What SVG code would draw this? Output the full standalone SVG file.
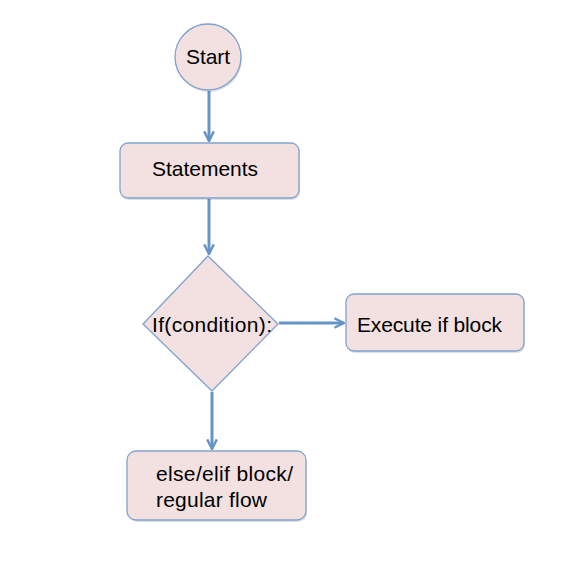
<svg xmlns="http://www.w3.org/2000/svg" width="588" height="587" viewBox="0 0 588 587">
<style>
.node{fill:#F2E1E0;stroke:#7FA3CE;stroke-width:1.3}
.lbl{font-family:"Liberation Sans",Arial,sans-serif;font-size:21px;fill:#000}
.edge{stroke:#6694C6;stroke-width:3;fill:none}
.shadow{fill:#000;opacity:0.12}
</style>
<defs>
<marker id="arr" viewBox="0 0 10 10" refX="9" refY="5" markerWidth="4" markerHeight="4" orient="auto" markerUnits="strokeWidth">
<path d="M1,1 L9,5 L1,9" fill="none" stroke="#6694C6" stroke-width="2"/>
</marker>
</defs>
<rect width="588" height="587" fill="#fff"/>
<g id="connectors">
<line class="edge" x1="209" y1="91" x2="209" y2="141" marker-end="url(#arr)"/>
<line class="edge" x1="209" y1="199" x2="209" y2="254" marker-end="url(#arr)"/>
<line class="edge" x1="279" y1="323" x2="344" y2="323" marker-end="url(#arr)"/>
<line class="edge" x1="212" y1="392" x2="212" y2="449" marker-end="url(#arr)"/>
</g>
<g id="start">
<circle class="shadow" cx="209" cy="59" r="33"/>
<circle class="node" cx="208" cy="57" r="33"/>
<text class="lbl" x="186" y="64" textLength="44">Start</text>
</g>
<g id="statements">
<rect class="shadow" x="121" y="145" width="179" height="55" rx="8"/>
<rect class="node" x="120" y="143" width="179" height="55" rx="8"/>
<text class="lbl" x="152" y="176" textLength="106">Statements</text>
</g>
<g id="condition">
<polygon class="node" points="208,256 278,324 212,391 143,324"/>
<text class="lbl" x="152" y="332" textLength="120">If(condition):</text>
</g>
<g id="execute">
<rect class="shadow" x="347" y="296" width="178" height="57" rx="8"/>
<rect class="node" x="346" y="294" width="178" height="57" rx="8"/>
<text class="lbl" x="357" y="332" textLength="145">Execute if block</text>
</g>
<g id="else">
<rect class="shadow" x="128" y="453" width="179" height="69" rx="9"/>
<rect class="node" x="127" y="451" width="179" height="69" rx="9"/>
<text class="lbl" x="156" y="481" textLength="137">else/elif block/</text>
<text class="lbl" x="156" y="507" textLength="111">regular flow</text>
</g>
</svg>
